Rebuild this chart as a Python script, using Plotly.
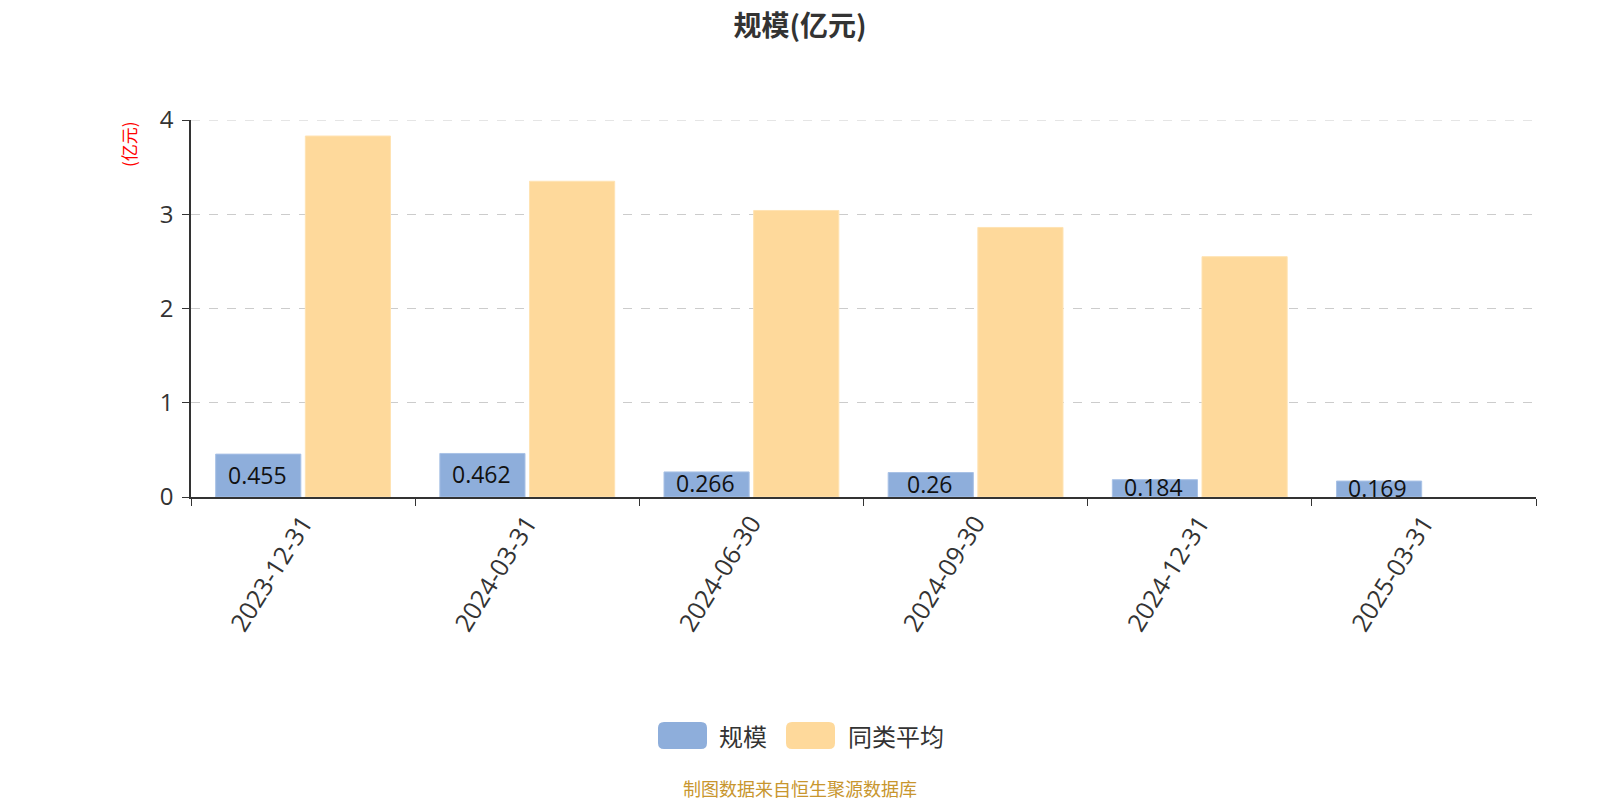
import plotly.graph_objects as go

categories = ["2023-12-31", "2024-03-31", "2024-06-30", "2024-09-30", "2024-12-31", "2025-03-31"]
scale_values = [0.455, 0.462, 0.266, 0.26, 0.184, 0.169]
peer_avg = [3.83, 3.35, 3.04, 2.86, 2.55, None]
y_ticks = [0, 1, 2, 3, 4]

BLUE = "#8EAEDB"
ORANGE = "#FED99B"
FONT = "Open Sans, Noto Sans CJK SC, sans-serif"
CJK = "Noto Sans CJK SC, sans-serif"

# page body has an 8px margin: figure is 1592x792 so that it ends at the window edge
W, H = 1592, 792
OFF = 8
L, R, T, B = 191 - OFF, W - (1536 - OFF), 120 - OFF, H - (497 - OFF)
pw, ph = W - L - R, H - T - B


def px(xr, yr):
    """reference-window pixel -> paper fraction"""
    return (xr - OFF - L) / pw, (H - B - (yr - OFF)) / ph


fig = go.Figure()
fig.add_trace(go.Bar(x=categories, y=scale_values, name="规模",
                     marker=dict(color=BLUE, line=dict(color="#A9C2E6", width=1))))
fig.add_trace(go.Bar(x=categories, y=peer_avg, name="同类平均",
                     marker=dict(color=ORANGE, line=dict(color="#FFE3B3", width=1))))

annotations = []
for c, v in zip(categories, scale_values):
    annotations.append(dict(x=c, y=v / 2, xref="x", yref="y", text=str(v), showarrow=False,
                            xshift=-46, yshift=1, font=dict(size=23, color="#111", family=FONT)))

# y-axis name
ax, ay = px(128, 144)
annotations.append(dict(x=ax, y=ay, xref="paper", yref="paper", text="(亿元)", showarrow=False,
                        xanchor="center", yanchor="middle", textangle=-90,
                        font=dict(size=17, color="red", family=CJK)))

fig.update_layout(
    width=W, height=H,
    margin=dict(l=L, r=R, t=T, b=B, autoexpand=False),
    paper_bgcolor="white", plot_bgcolor="white",
    title=dict(text="<b>规模(亿元)</b>", x=(800 - OFF) / W, xanchor="center",
               y=1 - (26 - OFF) / H, yanchor="middle",
               font=dict(size=28, color="#333", family=CJK)),
    barmode="group", bargap=0.2, bargroupgap=0.05,
    showlegend=False,
    font=dict(family=FONT, color="#333"),
)
fig.update_xaxes(type="category", tickson="boundaries", ticks="outside", ticklen=7, tickcolor="#333",
                 showline=True, linecolor="#333", linewidth=1.5, tickangle=-58,
                 tickfont=dict(size=25, color="#333", family=FONT), showgrid=False)
fig.update_yaxes(range=[0, 4], tickvals=y_ticks, ticks="outside", ticklen=7, tickcolor="#333",
                 showline=True, linecolor="#333", linewidth=1.5, zeroline=False,
                 showgrid=True, gridcolor="#cccccc", griddash="dash", gridwidth=1,
                 ticklabelstandoff=4,
                 tickfont=dict(size=24, color="#333", family=FONT))


def rounded_rect(x0, y0, x1, y1, rx, ry):
    return (f"M {x0+rx},{y0} L {x1-rx},{y0} Q {x1},{y0} {x1},{y0+ry} L {x1},{y1-ry} Q {x1},{y1} {x1-rx},{y1} "
            f"L {x0+rx},{y1} Q {x0},{y1} {x0},{y1-ry} L {x0},{y0+ry} Q {x0},{y0} {x0+rx},{y0} Z")


# top gridline (plotly omits gridlines lying on the plot edge)
shapes = [dict(type="line", xref="paper", yref="y", x0=0, x1=1, y0=y_ticks[-1], y1=y_ticks[-1],
               line=dict(color="#cccccc", width=1, dash="dash"), layer="below")]
legend_items = [("规模", BLUE, 658, 707, 717), ("同类平均", ORANGE, 786, 835, 846)]
for label, col, x0, x1, tx in legend_items:
    px0, py0 = px(x0, 749)
    px1, py1 = px(x1, 722)
    shapes.append(dict(type="path", xref="paper", yref="paper",
                       path=rounded_rect(px0, py0, px1, py1, 6 / pw, 6 / ph),
                       fillcolor=col, line=dict(width=0)))
    lx, ly = px(tx, 735)
    annotations.append(dict(x=lx, y=ly, xref="paper", yref="paper", text=label, showarrow=False,
                            xanchor="left", yanchor="middle", font=dict(size=24, color="#333", family=CJK)))

fx, fy = px(800, 788)
annotations.append(dict(x=fx, y=fy, xref="paper", yref="paper", text="制图数据来自恒生聚源数据库",
                        showarrow=False, xanchor="center", yanchor="middle",
                        font=dict(size=18, color="#C8962E", family=CJK)))

fig.update_layout(annotations=annotations, shapes=shapes)
fig.write_html("out.html")
